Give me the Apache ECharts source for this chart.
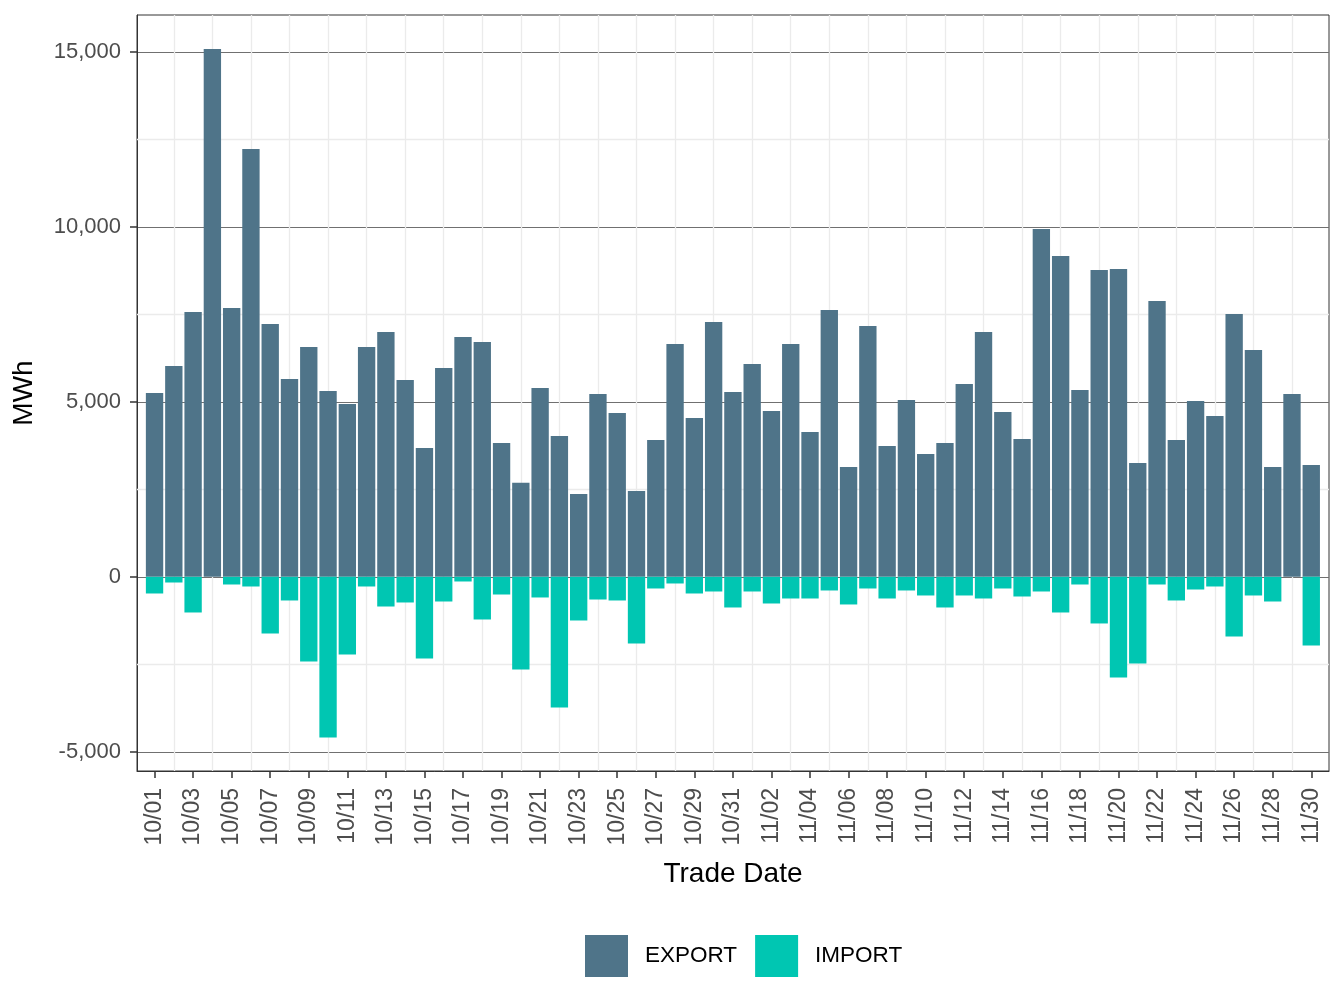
<!DOCTYPE html>
<html>
<head>
<meta charset="utf-8">
<script src="https://cdn.jsdelivr.net/npm/echarts@6/dist/echarts.min.js"></script>
<style>
html,body{margin:0;padding:0;background:#fff;}
#chart{width:1344px;height:1008px;}
</style>
</head>
<body>
<div id="chart"></div>
<script>
const dates = ["10/01","10/02","10/03","10/04","10/05","10/06","10/07","10/08","10/09","10/10",
"10/11","10/12","10/13","10/14","10/15","10/16","10/17","10/18","10/19","10/20",
"10/21","10/22","10/23","10/24","10/25","10/26","10/27","10/28","10/29","10/30","10/31",
"11/01","11/02","11/03","11/04","11/05","11/06","11/07","11/08","11/09","11/10",
"11/11","11/12","11/13","11/14","11/15","11/16","11/17","11/18","11/19","11/20",
"11/21","11/22","11/23","11/24","11/25","11/26","11/27","11/28","11/29","11/30"];

const exportVals = [5257,6029,7571,15086,7686,12229,7229,5657,6571,5314,
4943,6571,7000,5629,3686,5971,6857,6714,3829,2686,
5400,4029,2371,5229,4686,2457,3914,6657,4543,7286,5286,
6086,4743,6657,4143,7629,3143,7171,3743,5057,3514,
3829,5514,7000,4714,3943,9943,9171,5343,8771,8800,
3257,7886,3914,5029,4600,7514,6486,3143,5229,3200];

const importVals = [-476,-162,-1019,0,-219,-276,-1619,-676,-2419,-4590,
-2219,-276,-848,-733,-2333,-705,-133,-1219,-505,-2648,
-590,-3733,-1248,-648,-676,-1905,-333,-190,-476,-419,-876,
-419,-762,-619,-619,-390,-790,-333,-619,-390,-533,
-876,-533,-619,-333,-562,-419,-1019,-219,-1333,-2876,
-2476,-219,-676,-362,-276,-1705,-533,-705,0,-1962];

const yTicks = [-5000, 0, 5000, 10000, 15000];
const seriesNames = ["EXPORT", "IMPORT"];
const colors = ["#4F7489", "#00C6B2"];

const xTickIdx = dates.map((d, i) => i).filter(i => i % 2 === 0);
const xMinorIdx = dates.map((d, i) => i).filter(i => i % 2 === 1);
const yMinor = yTicks.slice(0, -1).map((v, i) => (v + yTicks[i + 1]) / 2);

const FONT = "'Liberation Sans', Arial, Helvetica, sans-serif";
const chart = echarts.init(document.getElementById('chart'), null, {renderer: 'canvas'});

const gridLines = xMinorIdx.map(i => ({xAxis: i})).concat(yMinor.map(v => ({yAxis: v})));

chart.setOption({
  backgroundColor: '#ffffff',
  animation: false,
  color: colors,
  grid: {left: 137, right: 15, top: 15, bottom: 237, show: true, borderColor: '#333333', borderWidth: 1, backgroundColor: 'transparent', containLabel: false},
  legend: {
    data: seriesNames,
    left: 580, top: 930,
    icon: 'rect',
    itemWidth: 43, itemHeight: 42, itemGap: 18,
    textStyle: {fontFamily: FONT, fontSize: 22.5, color: '#000', padding: [0, 0, 0, 12]}
  },
  xAxis: {
    type: 'value',
    min: -0.91, max: 60.92,
    name: 'Trade Date',
    nameLocation: 'middle',
    nameGap: 89,
    nameTextStyle: {fontFamily: FONT, fontSize: 28, color: '#000'},
    axisLine: {show: true, onZero: false, lineStyle: {color: '#333333', width: 1}},
    axisTick: {show: true, customValues: xTickIdx, length: 7, lineStyle: {color: '#333333', width: 1.5}},
    axisLabel: {customValues: xTickIdx, rotate: 90, margin: 17, fontFamily: FONT, fontSize: 23, color: '#4d4d4d',
      formatter: v => dates[Math.round(v)] || ''},
    splitLine: {show: false}
  },
  yAxis: {
    type: 'value',
    min: -5550, max: 16060,
    name: 'MWh',
    nameLocation: 'middle',
    nameGap: 99,
    nameTextStyle: {fontFamily: FONT, fontSize: 28, color: '#000'},
    axisLine: {show: true, onZero: false, lineStyle: {color: '#333333', width: 1}},
    axisTick: {show: true, customValues: yTicks, length: 7, lineStyle: {color: '#333333', width: 1.5}},
    axisLabel: {customValues: yTicks, margin: 16, fontFamily: FONT, fontSize: 22, color: '#4d4d4d',
      formatter: v => Number(v).toLocaleString('en-US')},
    splitLine: {show: true, lineStyle: {color: '#707070', width: 1}}
  },
  series: [
    {
      name: seriesNames[0], type: 'bar', stack: 'flow', z: 3,
      barWidth: '90%',
      itemStyle: {color: colors[0]},
      data: exportVals.map((v, i) => [i, v]),
      markLine: {
        silent: true, z: 1, symbol: 'none',
        label: {show: false},
        lineStyle: {color: '#ebebeb', width: 1.3, type: 'solid'},
        emphasis: {disabled: true},
        data: gridLines
      }
    },
    {
      name: seriesNames[1], type: 'bar', stack: 'flow', z: 3,
      barWidth: '90%',
      itemStyle: {color: colors[1]},
      data: importVals.map((v, i) => [i, v])
    }
  ]
});
</script>
</body>
</html>
